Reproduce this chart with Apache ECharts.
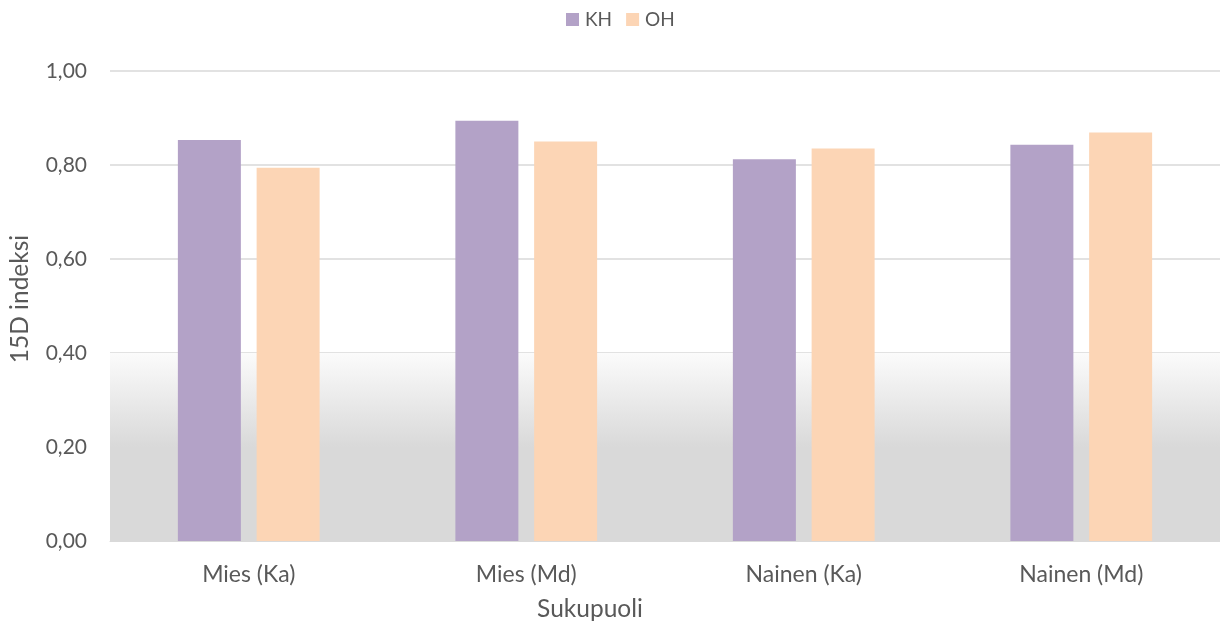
<!DOCTYPE html>
<html><head><meta charset="utf-8">
<script src="https://cdn.jsdelivr.net/npm/echarts@6/dist/echarts.min.js"></script>
<style>html,body{margin:0;padding:0;background:#fff}#c{width:1220px;height:621px}</style>
</head><body><div id="c"></div>
<script>
const categories = ['Mies (Ka)', 'Mies (Md)', 'Nainen (Ka)', 'Nainen (Md)'];
const khValues = [0.853, 0.894, 0.812, 0.843];
const ohValues = [0.794, 0.850, 0.835, 0.869];
const yTicks = { min: 0, max: 1, interval: 0.2 };

const font = 'Lato, Carlito, "Open Sans", sans-serif';
const chart = echarts.init(document.getElementById('c'), null, { renderer: 'canvas' });
chart.setOption({
  animation: false,
  textStyle: { fontFamily: font },
  legend: {
    top: 5, left: 561, itemWidth: 13, itemHeight: 13, itemGap: 14,
    icon: 'rect',
    textStyle: { color: '#595959', fontSize: 19, fontFamily: font, padding: [0, 0, 0, 1] },
    data: ['KH', 'OH']
  },
  grid: { left: 110, right: 0, top: 71, bottom: 80, containLabel: false, outerBoundsMode: 'none' },
  xAxis: {
    type: 'category', data: categories,
    name: 'Sukupuoli', nameLocation: 'middle', nameGap: 56,
    nameTextStyle: { color: '#595959', fontSize: 24.5, fontFamily: font, padding: [0, 150, 0, 0] },
    axisLine: { lineStyle: { color: '#d9d9d9', width: 1 } },
    axisTick: { show: false },
    axisLabel: { color: '#595959', fontSize: 23, margin: 22, fontFamily: font }
  },
  yAxis: {
    type: 'value', min: yTicks.min, max: yTicks.max, interval: yTicks.interval,
    name: '15D indeksi', nameLocation: 'middle', nameGap: 77, nameRotate: 90,
    nameTextStyle: { color: '#595959', fontSize: 24.5, fontFamily: font, padding: [0, 0, 0, 14] },
    axisLine: { show: false }, axisTick: { show: false },
    splitLine: { lineStyle: { color: '#d9d9d9', width: 1.5 } },
    axisLabel: { color: '#595959', fontSize: 21, margin: 23, fontFamily: font,
      formatter: v => v.toFixed(2).replace('.', ',') }
  },
  series: [
    {
      type: 'bar', name: 'bg', data: [], z: 1, silent: true,
      markArea: {
        silent: true,
        itemStyle: {
          color: new echarts.graphic.LinearGradient(0, 0, 0, 1, [
            { offset: 0, color: '#fbfbfb' },
            { offset: 0.5, color: '#d9d9d9' },
            { offset: 1, color: '#d9d9d9' }
          ])
        },
        data: [[{ yAxis: 0.4 }, { yAxis: 0 }]]
      }
    },
    {
      type: 'bar', name: 'KH', data: khValues, z: 3,
      barWidth: 63, barGap: '25%',
      itemStyle: { color: '#b3a2c7' }
    },
    {
      type: 'bar', name: 'OH', data: ohValues, z: 3,
      barWidth: 63, barGap: '25%',
      itemStyle: { color: '#fcd5b5' }
    }
  ]
});
</script></body></html>
